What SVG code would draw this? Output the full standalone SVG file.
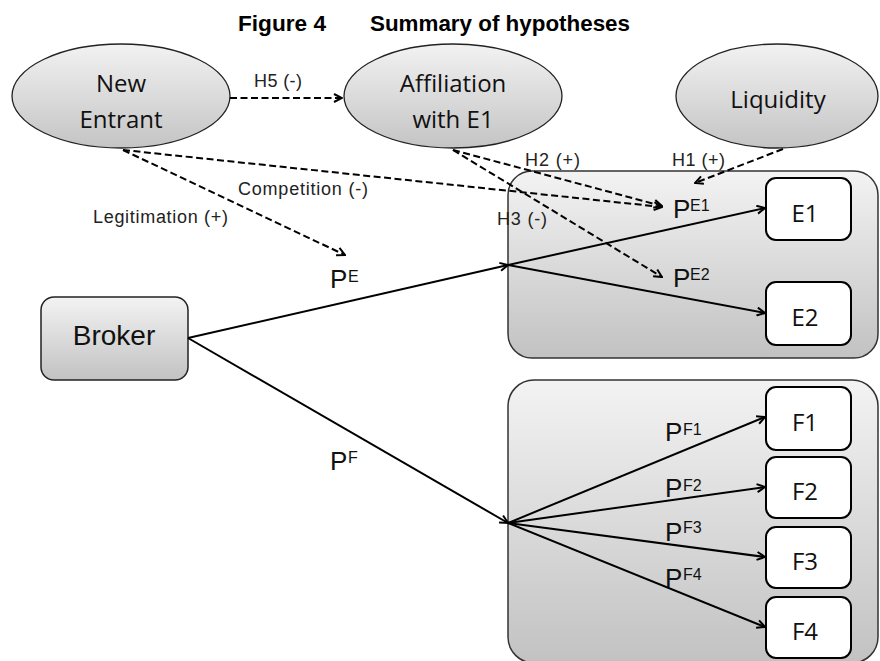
<svg xmlns="http://www.w3.org/2000/svg" width="880" height="661" viewBox="0 0 880 661">
<defs>
  <linearGradient id="gEll" x1="0" y1="0" x2="0" y2="1">
    <stop offset="0" stop-color="#f2f2f2"/>
    <stop offset="1" stop-color="#c4c4c4"/>
  </linearGradient>
  <linearGradient id="gBox" x1="0" y1="0" x2="0" y2="1">
    <stop offset="0" stop-color="#f3f3f3"/>
    <stop offset="1" stop-color="#c2c2c2"/>
  </linearGradient>
  <marker id="arr" markerUnits="userSpaceOnUse" viewBox="0 0 10 10" refX="9" refY="5" markerWidth="10" markerHeight="10" orient="auto">
    <path d="M1,1 L9,5 L1,9" fill="none" stroke="#000" stroke-width="2"/>
  </marker>
</defs>
<style>
  .title { font-family: "Liberation Sans", Arial, sans-serif; font-weight: bold; font-size: 22px; fill: #000; }
  .ell { fill: url(#gEll); stroke: #222; stroke-width: 1.3; }
  .grp { fill: url(#gBox); stroke: #333; stroke-width: 1.5; }
  .leaf { fill: #fff; stroke: #000; stroke-width: 2; }
  .broker { fill: url(#gBox); stroke: #222; stroke-width: 1.5; }
  .nt { font-family: "Open Sans", Lato, sans-serif; font-size: 24px; fill: #111; text-anchor: middle; }
  .bt { font-family: "Liberation Sans", Arial, sans-serif; font-size: 28px; fill: #111; text-anchor: middle; }
  .lbl { font-family: "Liberation Sans", Arial, sans-serif; font-size: 18px; fill: #222; }
  .p { font-family: "Liberation Sans", Arial, sans-serif; font-size: 26px; fill: #111; }
  .sup { font-size: 16px; }
  .dash { fill: none; stroke: #000; stroke-width: 2; stroke-dasharray: 7 3.5; marker-end: url(#arr); }
  .solida { fill: none; stroke: #000; stroke-width: 2; marker-end: url(#arr); }
</style>

<text class="title" x="238" y="31" textLength="88" lengthAdjust="spacingAndGlyphs">Figure 4</text>
<text class="title" x="370" y="31" textLength="260" lengthAdjust="spacingAndGlyphs">Summary of hypotheses</text>

<g id="group-E">
  <rect class="grp" x="508" y="171" width="370" height="187" rx="24" ry="24"/>
</g>
<g id="group-F">
  <rect class="grp" x="508" y="380" width="370" height="283" rx="26" ry="26"/>
</g>

<g id="new-entrant">
  <ellipse class="ell" cx="121" cy="96" rx="109" ry="52"/>
  <text class="nt" x="121" y="92">New</text>
  <text class="nt" x="121" y="128">Entrant</text>
</g>
<g id="affiliation">
  <ellipse class="ell" cx="453" cy="96" rx="109" ry="52"/>
  <text class="nt" x="453" y="92">Affiliation</text>
  <text class="nt" x="453" y="128">with E1</text>
</g>
<g id="liquidity">
  <ellipse class="ell" cx="777" cy="96" rx="101" ry="52"/>
  <text class="nt" x="778" y="108">Liquidity</text>
</g>

<g id="broker">
  <rect class="broker" x="41" y="297" width="147" height="83" rx="13" ry="13"/>
  <text class="bt" x="114" y="345">Broker</text>
</g>

<g id="E1"><rect class="leaf" x="766" y="178" width="85" height="62" rx="10" ry="10"/><text class="nt" x="805" y="222">E1</text></g>
<g id="E2"><rect class="leaf" x="766" y="282" width="85" height="63" rx="10" ry="10"/><text class="nt" x="805" y="326">E2</text></g>
<g id="F1"><rect class="leaf" x="766" y="387" width="85" height="63" rx="10" ry="10"/><text class="nt" x="805" y="431">F1</text></g>
<g id="F2"><rect class="leaf" x="766" y="457" width="85" height="61" rx="10" ry="10"/><text class="nt" x="805" y="500">F2</text></g>
<g id="F3"><rect class="leaf" x="766" y="527" width="85" height="61" rx="10" ry="10"/><text class="nt" x="805" y="570">F3</text></g>
<g id="F4"><rect class="leaf" x="766" y="597" width="85" height="61" rx="10" ry="10"/><text class="nt" x="805" y="640">F4</text></g>

<g id="connectors">
  <line class="dash" x1="230" y1="98" x2="342" y2="98"/>
  <line class="dash" x1="123" y1="150" x2="345" y2="255"/>
  <line class="dash" x1="123" y1="150" x2="662" y2="207"/>
  <line class="dash" x1="453" y1="150" x2="662" y2="206"/>
  <line class="dash" x1="453" y1="150" x2="662" y2="277"/>
  <line class="dash" x1="783" y1="149" x2="695" y2="183"/>

  <line class="solida" x1="188" y1="338" x2="508" y2="265"/>
  <line class="solida" x1="188" y1="338" x2="508" y2="523"/>
  <line class="solida" x1="508" y1="265" x2="765" y2="208"/>
  <line class="solida" x1="508" y1="265" x2="765" y2="313"/>
  <line class="solida" x1="508" y1="523" x2="765" y2="417"/>
  <line class="solida" x1="508" y1="523" x2="765" y2="487"/>
  <line class="solida" x1="508" y1="523" x2="765" y2="557"/>
  <line class="solida" x1="508" y1="523" x2="765" y2="627"/>
</g>

<g id="labels">
  <text class="lbl" x="254" y="87" textLength="48">H5 (-)</text>
  <text class="lbl" x="238" y="195" textLength="130">Competition (-)</text>
  <text class="lbl" x="93" y="223" textLength="135">Legitimation (+)</text>
  <text class="lbl" x="525" y="166" textLength="55">H2 (+)</text>
  <text class="lbl" x="672" y="166" textLength="53">H1 (+)</text>
  <text class="lbl" x="497" y="225" textLength="50">H3 (-)</text>

  <text class="p" x="330" y="288">P<tspan class="sup" x="348" y="282">E</tspan></text>
  <text class="p" x="673" y="218">P<tspan class="sup" x="690" y="211">E1</tspan></text>
  <text class="p" x="673" y="287">P<tspan class="sup" x="690" y="280">E2</tspan></text>
  <text class="p" x="330" y="470">P<tspan class="sup" x="348" y="463">F</tspan></text>
  <text class="p" x="665" y="441">P<tspan class="sup" x="683" y="435">F1</tspan></text>
  <text class="p" x="665" y="497">P<tspan class="sup" x="683" y="491">F2</tspan></text>
  <text class="p" x="665" y="541">P<tspan class="sup" x="683" y="533">F3</tspan></text>
  <text class="p" x="665" y="587">P<tspan class="sup" x="683" y="580">F4</tspan></text>
</g>
</svg>
